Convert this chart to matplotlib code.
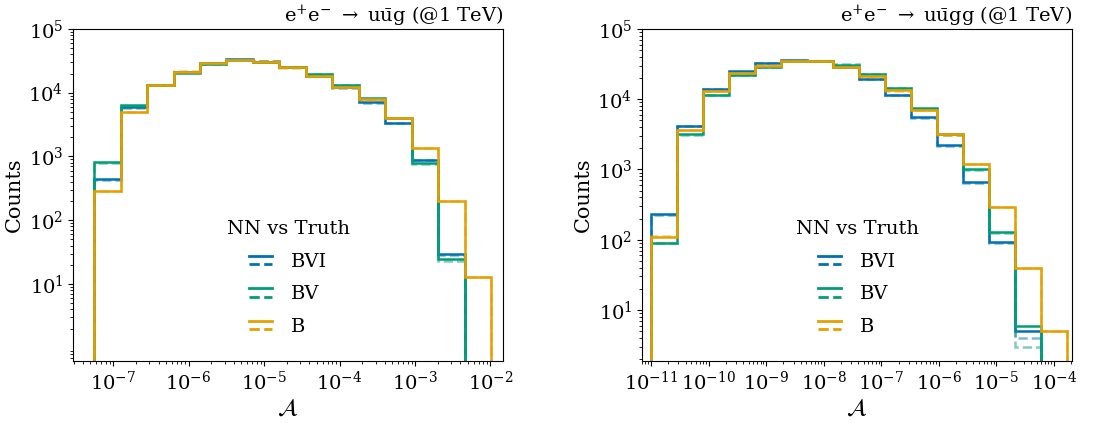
import numpy as np
import matplotlib
matplotlib.use('Agg')
import matplotlib.pyplot as plt
import matplotlib as mpl
from matplotlib.lines import Line2D
from matplotlib.legend_handler import HandlerBase
from matplotlib.ticker import LogLocator, NullFormatter


mpl.rcParams['font.family'] = 'DejaVu Serif'
mpl.rcParams['mathtext.fontset'] = 'dejavuserif'
mpl.rcParams['axes.labelsize'] = 15
mpl.rcParams['xtick.labelsize'] = 14
mpl.rcParams['ytick.labelsize'] = 14
mpl.rcParams['legend.fontsize'] = 14


# bin ranges (log10 of A)
left_lo, left_hi, left_nbins = -7.252, -1.991, 15
right_lo, right_hi, right_nbins = -11.0, -3.78, 16

# e+e- -> u ubar g : NN (solid) and truth (dashed) counts
bvi_nn_L = [440, 5900, 13100, 21400, 29600, 33400, 30800, 25100, 18100, 12200, 7100, 3300, 880, 29.5, 0]
bv_nn_L = [810, 6350, 13100, 20700, 27900, 32600, 30800, 25100, 19500, 13200, 8200, 3970, 780, 25, 0]
b_nn_L = [288, 5050, 13100, 21400, 29600, 32600, 30800, 25100, 18100, 12200, 7900, 3970, 1380, 200, 13]

bvi_tr_L = [430, 5800, 13300, 21000, 29000, 33000, 31000, 25000, 18300, 12000, 7000, 3300, 890, 29, 0]
bv_tr_L = [800, 6200, 13400, 21000, 28300, 32000, 31000, 25300, 19300, 13400, 8100, 4000, 770, 23, 0]
b_tr_L = [285, 5000, 13200, 21600, 29300, 32300, 31000, 24800, 18300, 12300, 7800, 4000, 1370, 198, 13]

# e+e- -> u ubar g g
bvi_nn_R = [230, 4200, 14100, 25000, 32800, 35800, 34700, 28500, 19600, 11400, 5500, 2200, 660, 93, 5, 0]
bv_nn_R = [90, 3200, 11500, 21900, 28700, 34700, 34700, 31000, 22900, 14500, 7400, 3150, 1000, 128, 6, 0]
b_nn_R = [110, 3700, 13100, 23700, 30000, 34700, 34700, 28700, 21200, 13300, 7100, 3150, 1200, 295, 40, 5]

bvi_tr_R = [228, 4150, 14000, 24600, 32500, 35500, 34900, 28300, 19400, 11300, 5400, 2180, 650, 90, 4, 0]
bv_tr_R = [89, 3100, 11300, 22200, 28400, 34400, 34900, 31300, 23200, 14300, 7300, 3100, 990, 125, 3, 0]
b_tr_R = [112, 3650, 13000, 23500, 30200, 34500, 34900, 28500, 21000, 13200, 7000, 3120, 1190, 290, 40, 5]

labels = ['BVI', 'BV', 'B']
colors = ['#0072B2', '#009E73', '#E69F00']


class SolidDashed(HandlerBase):
    # solid line on top, dashed line below
    def create_artists(self, legend, orig_handle, xdescent, ydescent,
                       width, height, fontsize, trans):
        c = orig_handle.get_color()
        x = [-xdescent, -xdescent + width]
        l1 = Line2D(x, [0.8*height - ydescent]*2, color=c, lw=2, transform=trans)
        l2 = Line2D(x, [0.2*height - ydescent]*2, color=c, lw=2, ls='--', transform=trans)
        return [l1, l2]


def panel(ax, edges, nn, tr, title, xlim, ylim, yticks):
    for n, t, c in zip(nn, tr, colors):
        ax.stairs(t, edges, color=c, lw=1.8, ls='--', alpha=0.5)
        ax.stairs(n, edges, color=c, lw=1.8)
    ax.set_xscale('log')
    ax.set_yscale('log')
    ax.xaxis.set_major_locator(LogLocator(base=10, numticks=30))
    ax.xaxis.set_minor_locator(LogLocator(base=10, subs=np.arange(2, 10), numticks=30))
    ax.xaxis.set_minor_formatter(NullFormatter())
    ax.yaxis.set_minor_formatter(NullFormatter())
    ax.set_xlim(xlim)
    ax.set_ylim(ylim)
    ax.set_yticks(yticks)
    ax.set_xlabel(r'$\mathcal{A}$', fontsize=17, labelpad=2)
    ax.set_ylabel('Counts', labelpad=3)
    ax.set_title(title, loc='right', fontsize=14, pad=3)
    handles = [Line2D([], [], color=c) for c in colors]
    ax.legend(handles, labels, handler_map={Line2D: SolidDashed()},
              title='NN vs Truth', title_fontsize=14, frameon=False,
              loc='center', bbox_to_anchor=(0.5, 0.25),
              handlelength=1.2, handletextpad=1.0, labelspacing=0.75)


fig = plt.figure(figsize=(11.17, 4.23), dpi=100)
ax1 = fig.add_axes([0.0654, 0.1466, 0.385, 0.785])
ax2 = fig.add_axes([0.5748, 0.1466, 0.385, 0.785])

edges_L = np.logspace(left_lo, left_hi, left_nbins + 1)
edges_R = np.logspace(right_lo, right_hi, right_nbins + 1)

panel(ax1, edges_L, [bvi_nn_L, bv_nn_L, b_nn_L], [bvi_tr_L, bv_tr_L, b_tr_L],
      r'e$^{+}$e$^{-}$ $\rightarrow$ u$\bar{\mathrm{u}}$g (@1 TeV)',
      (10**-7.531, 10**-1.832), (0.62, 1e5), [1e1, 1e2, 1e3, 1e4, 1e5])
panel(ax2, edges_R, [bvi_nn_R, bv_nn_R, b_nn_R], [bvi_tr_R, bv_tr_R, b_tr_R],
      r'e$^{+}$e$^{-}$ $\rightarrow$ u$\bar{\mathrm{u}}$gg (@1 TeV)',
      (10**-11.156, 10**-3.683), (1.88, 1e5), [1e1, 1e2, 1e3, 1e4, 1e5])

plt.savefig('out.png', dpi=100)
